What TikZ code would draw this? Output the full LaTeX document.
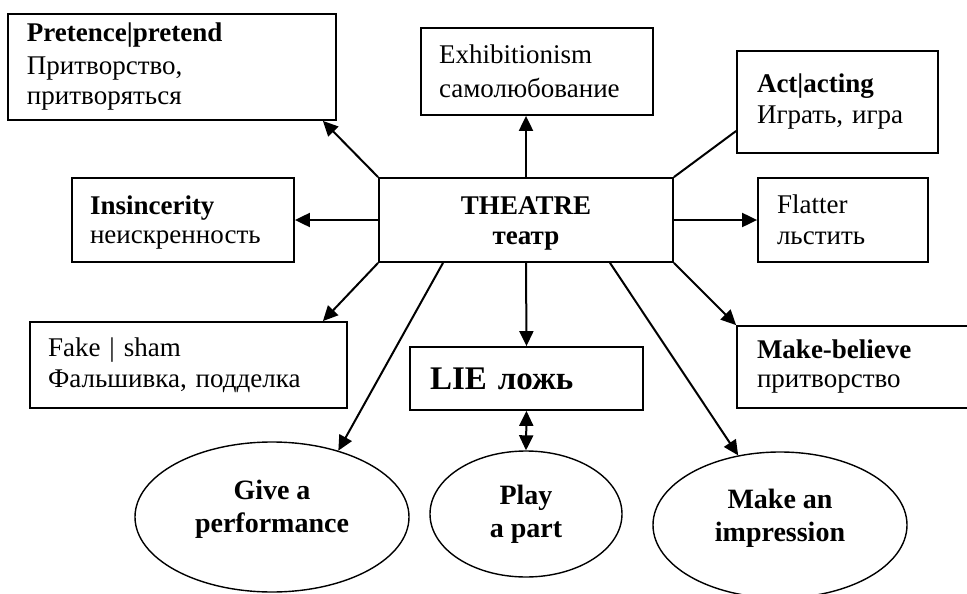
\documentclass[tikz,border=0pt]{standalone}
\usepackage{fontspec}
\setmainfont{Liberation Serif}
\usetikzlibrary{arrows.meta, positioning, shapes.geometric}

\begin{document}
\begin{tikzpicture}[x=1pt, y=-1pt]
    % Define styles
    \tikzstyle{box} = [rectangle, draw, line width=1.8pt, align=left, inner ysep=0pt, font=\fontsize{27}{31}\selectfont]
    \tikzstyle{oval} = [ellipse, draw, line width=1.4pt, align=center, inner sep=0pt, font=\fontsize{28}{33}\selectfont\bfseries]
    \tikzstyle{line} = [draw, line width=2pt]
    \tikzstyle{arrow} = [line, -{Triangle[length=15pt, width=14pt]}]

    \useasboundingbox (0,0) rectangle (967,594);

    % Centre box
    \node[box, align=center, minimum width=294pt, minimum height=84pt, font=\fontsize{27}{30}\selectfont\bfseries] (T) at (526,220) {\rule{0pt}{24pt}THEATRE\\театр};

    % Upper row
    \node[box, minimum width=328pt, minimum height=106pt, inner xsep=19pt, text width=290pt, font=\fontsize{27}{30}\selectfont] (P) at (172,67)
        {\textbf{Pretence|pretend}\\[3pt]Притворство,\\притворяться};
    \node[box, minimum width=232pt, minimum height=87pt, inner xsep=18pt, text width=196pt, font=\fontsize{27}{34}\selectfont] (E) at (537,71.5)
        {Exhibitionism\\самолюбование};
    \node[box, minimum width=201pt, minimum height=102pt, inner xsep=20pt, text width=161pt] (A) at (837.5,102)
        {\textbf{Act|acting}\\Играть, игра\\[-19pt]};

    % Middle row
    \node[box, minimum width=222pt, minimum height=84pt, inner xsep=18pt, text width=186pt, font=\fontsize{27}{29}\selectfont] (I) at (183,220)
        {\rule{0pt}{24pt}\textbf{Insincerity}\\неискренность};
    \node[box, minimum width=170pt, minimum height=84pt, inner xsep=19pt, text width=132pt] (F) at (843,220)
        {Flatter\\льстить};

    % Lower row
    \node[box, minimum width=317pt, minimum height=86pt, inner xsep=18pt, text width=281pt] (Fk) at (188.5,365)
        {Fake | sham\\Фальшивка, подделка};
    \node[box, minimum width=233pt, minimum height=63pt, inner xsep=20pt, text width=193pt, font=\fontsize{33}{36}\selectfont\bfseries] (L) at (526.5,378.5)
        {LIE ложь};
    \node[box, minimum width=253pt, minimum height=82pt, inner xsep=20pt, text width=213pt, font=\fontsize{27}{29}\selectfont] (MB) at (863.5,367)
        {\textbf{Make-believe}\\притворство};

    % Ellipses
    \node[oval, minimum width=274pt, minimum height=150pt] (G) at (272,517) {Give a\\performance\\[-12pt]};
    \node[oval, minimum width=192pt, minimum height=126pt] (Pl) at (526,514) {Play\\a part};
    \node[oval, minimum width=254pt, minimum height=146pt] (M) at (780,525) {Make an\\impression\\[-13pt]};

    % Connections from THEATRE
    \draw[arrow] (T.north west) -- ([xshift=-14pt]P.south east);
    \draw[arrow] (T.north) -- (T.north |- E.south);
    \draw[line] (T.north east) -- ([yshift=-29pt]A.west);
    \draw[arrow] (T.west) -- (I.east);
    \draw[arrow] (T.east) -- (F.west);
    \draw[arrow] (T.south west) -- ([xshift=-25pt]Fk.north east);
    \draw[arrow] ([xshift=-83pt]T.south) -- (G.45);
    \draw[arrow] (T.south) -- (L.north);
    \draw[arrow] ([xshift=84pt]T.south) -- (M.121);
    \draw[arrow] (T.south east) -- (MB.north west);

    % LIE to Play a part
    \draw[line, {Triangle[length=15pt, width=14pt]}-{Triangle[length=15pt, width=14pt]}] (L.south) -- (Pl.north);
\end{tikzpicture}
\end{document}
